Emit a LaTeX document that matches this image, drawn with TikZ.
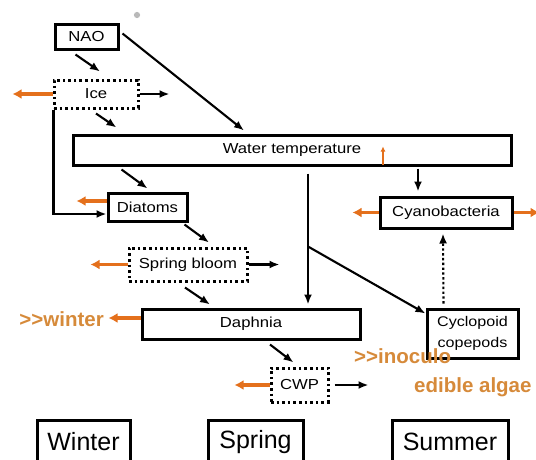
\documentclass[tikz,border=0pt]{standalone}
\usepackage{fontspec}
\newfontfamily\boxfont{Liberation Sans}[FakeStretch=1.15]
\newfontfamily\plainfont{Liberation Sans}
\usetikzlibrary{arrows.meta, positioning, calc}
\definecolor{orangeline}{RGB}{228,112,28}
\definecolor{orangetext}{RGB}{214,138,58}

\begin{document}
\begin{tikzpicture}[
    x=1pt, y=-1pt,
    font=\boxfont\fontsize{14.5}{16}\selectfont,
    % Styles
    solidbox/.style={
        draw, fill=white, line width=3pt, inner sep=0pt, align=center
    },
    dotbox/.style={
        draw, fill=white, line width=3pt, inner sep=0pt,
        dash pattern=on 2.6pt off 3pt
    },
    seasonbox/.style={
        draw, line width=3pt, inner sep=0pt,
        font=\plainfont\fontsize{25}{28}\selectfont
    },
    arrow/.style={-{Latex[length=10pt,width=8pt]}, line width=2.1pt},
    outarrow/.style={-{Latex[length=9pt,width=10pt]}, line width=3.4pt, orangeline},
    outlabel/.style={font=\plainfont\bfseries\fontsize{20.5}{22}\selectfont, text=orangetext, inner sep=0pt}
]
    \useasboundingbox (0,0) rectangle (536,459);
    \clip (0,0) rectangle (536,459);

    % --- Drivers ---
    \node[solidbox, minimum width=63, minimum height=25] (nao) at (86.5,36.5) {NAO};
    \node[circle, fill=gray!55, inner sep=2.2pt] (mark) at (137,15) {};
    \node[dotbox, minimum width=84, minimum height=28] (ice) at (96,94) {Ice};
    \node[solidbox, minimum width=438, minimum height=30] (water) at (292,150) {Water temperature};

    % --- Plankton ---
    \node[solidbox, minimum width=79, minimum height=28] (diatoms) at (147.5,207) {Diatoms};
    \node[solidbox, minimum width=132, minimum height=31] (cyano) at (446,212.5) {Cyanobacteria};
    \node[dotbox, minimum width=118, minimum height=33] (bloom) at (188,264.5) {Spring bloom};
    \node[solidbox, minimum width=218, minimum height=30] (daphnia) at (251,324) {Daphnia};
    \node[solidbox, minimum width=91, minimum height=49,
          font=\boxfont\fontsize{14}{21}\selectfont] (cyclo) at (472.5,333.5) {Cyclopoid\\copepods};
    \node[dotbox, minimum width=57, minimum height=34] (cwp) at (299.5,385) {CWP};

    % --- Seasons ---
    \node[seasonbox, minimum width=93, minimum height=44] (winter) at (83.5,442) {Winter};
    \node[seasonbox, minimum width=95, minimum height=44] (spring) at (255.5,442) {Spring};
    \node[seasonbox, minimum width=116, minimum height=44] (summer) at (450,442) {Summer};

    % --- Connections ---
    \draw[arrow] ([xshift=-11pt,yshift=-4pt]nao.south) -- ([xshift=4pt,yshift=7pt]ice.north);
    \draw[arrow] ([xshift=3pt,yshift=3pt]nao.east) -- ([xshift=-48pt,yshift=3pt]water.north);

    \draw[outarrow] (ice.west) -- ++(-40,0);
    \draw[arrow] (ice.east) -- ++(30,0);
    \draw[arrow] ([yshift=-4pt]ice.south) -- ([xshift=45pt,yshift=6pt]water.north west);
    \draw[arrow] ([xshift=1pt]ice.south west) |- ([yshift=-7pt]diatoms.west);

    \draw[-{Latex[length=5pt,width=5pt]}, line width=1.3pt, orangeline]
        ([xshift=91pt,yshift=2pt]water.south) -- ++(0,-18);
    \draw[arrow] ([xshift=50pt,yshift=-3pt]water.south west) -- ([yshift=3pt]diatoms.north);
    \draw[arrow] ([xshift=126pt,yshift=-2pt]water.south) -- ([xshift=-28pt,yshift=4pt]cyano.north);
    \draw[arrow] ([xshift=16pt,yshift=-7pt]water.south) -- ([xshift=57pt,yshift=3pt]daphnia.north);
    \coordinate (split) at ([xshift=16pt,yshift=-80pt]water.south);
    \draw[arrow] (split) -- ([yshift=-6pt]cyclo.north west);

    \draw[outarrow] (cyano.west) -- ++(-26,0);
    \draw[outarrow] (cyano.east) -- ++(26,0);
    \draw[arrow, dash pattern=on 2.4pt off 2.4pt]
        ([xshift=-29pt,yshift=4pt]cyclo.north) -- ([xshift=-3pt,yshift=-4pt]cyano.south);

    \draw[outarrow] ([yshift=6pt]diatoms.west) -- ++(-30,0);
    \draw[arrow] ([xshift=-4pt,yshift=-2pt]diatoms.south east) -- ([xshift=21pt,yshift=4pt]bloom.north);

    \draw[outarrow] (bloom.west) -- ++(-37,0);
    \draw[arrow] (bloom.east) -- ++(31,0);
    \draw[arrow] ([xshift=-3pt,yshift=-5pt]bloom.south) -- ([xshift=-41pt,yshift=3pt]daphnia.north);

    \node[outlabel, anchor=east] (lwinter) at (104,319) {>\kern0pt>winter};
    \draw[outarrow] ([yshift=6pt]daphnia.west) -- ++(-32,0);
    \draw[arrow] ([xshift=19pt,yshift=-4pt]daphnia.south) -- ([xshift=-6pt,yshift=4pt]cwp.north);

    \draw[outarrow] (cwp.west) -- ++(-35,0);
    \draw[arrow] ([xshift=5pt]cwp.east) -- ++(34,0);

    \node[outlabel, anchor=west] (linoc) at (354,356) {>\kern0pt>inoculo};
    \node[outlabel, anchor=west] (lalgae) at (414,387) {edible algae};

\end{tikzpicture}
\end{document}
